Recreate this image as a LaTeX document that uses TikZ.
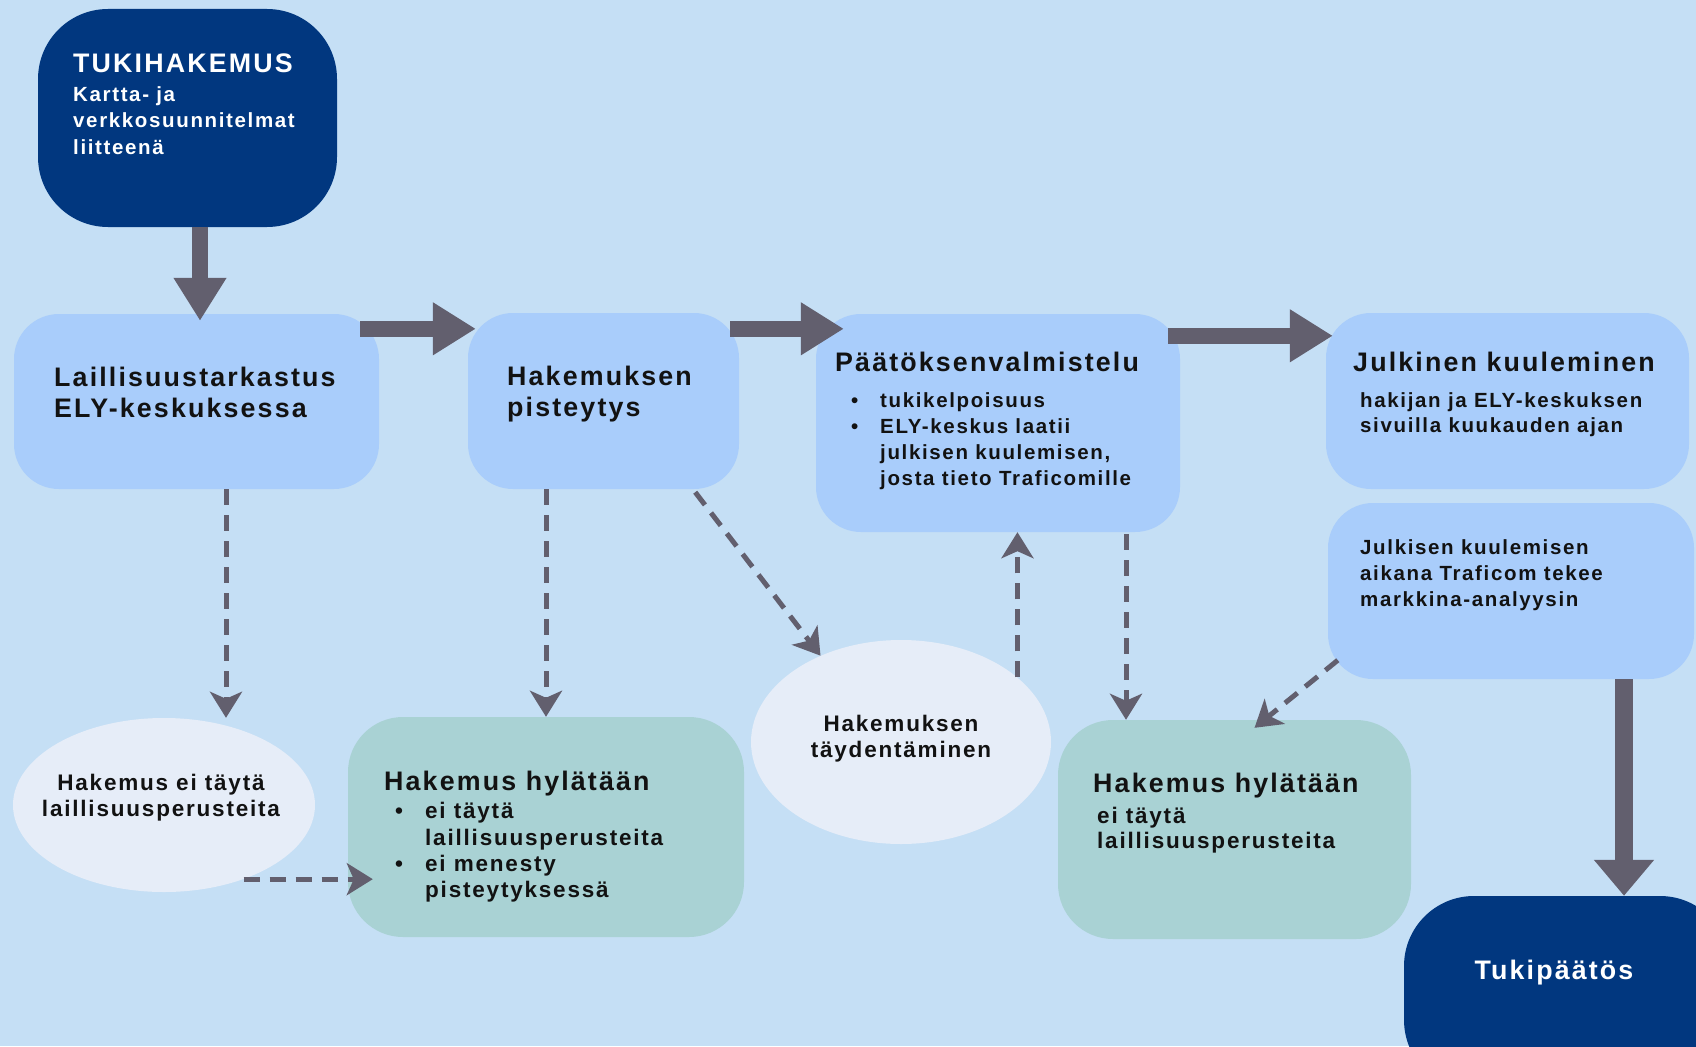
\documentclass[tikz,border=0pt]{standalone}
\usepackage{fontspec}
\setmainfont{Liberation Sans}[LetterSpace=8]
\usetikzlibrary{arrows.meta,calc,shapes.geometric}
\definecolor{bgc}{HTML}{C5DFF5}
\definecolor{lbox}{HTML}{A9CDFB}
\definecolor{dbox}{HTML}{01377F}
\definecolor{ebox}{HTML}{E6EDF8}
\definecolor{gbox}{HTML}{A9D2D4}
\definecolor{arr}{HTML}{625F6E}
\definecolor{txt}{HTML}{121212}
\tikzset{
  lightbox/.style={fill=lbox, rounded corners=45, inner sep=0},
  darkbox/.style={fill=dbox, rounded corners=70, inner sep=0},
  greenbox/.style={fill=gbox, rounded corners=55, inner sep=0},
  ellbox/.style={fill=ebox, ellipse, inner sep=0},
  thk/.style={draw=arr, line width=16.5, -{Triangle[length=43pt,width=50pt]}},
  dsh/.style={draw=arr, line width=5, dash pattern=on 16pt off 10pt, -{Stealth[length=26pt,width=32pt,inset=7pt]}},
  hd/.style={font=\fontsize{26.8}{31}\selectfont\bfseries, text=txt, inner sep=0, anchor=base west},
  sb/.style={font=\fontsize{20.5}{26}\selectfont\bfseries, text=txt, inner sep=0, anchor=base west},
  sbl/.style={sb, font=\fontsize{22.5}{26}\selectfont\bfseries},
  sbc/.style={sbl, anchor=base},
  wt/.style={text=white},
}
\begin{document}
\begin{tikzpicture}[x=1pt,y=-1pt]
\path[use as bounding box] (0,0) rectangle (1696,1046);
\fill[bgc] (0,0) rectangle (1696,1046);
\clip (0,0) rectangle (1696,1046);

% boxes
\node[darkbox, minimum width=299, minimum height=218] (tuki) at (187.5,118) {};
\node[lightbox, minimum width=365, minimum height=175] (lail) at (196.5,401.5) {};
\node[lightbox, minimum width=271, minimum height=176] (pist) at (603.5,401) {};
\node[lightbox, minimum width=364, minimum height=218] (paat) at (998,423) {};
\node[lightbox, minimum width=363, minimum height=176] (julk) at (1507.5,401) {};
\node[lightbox, minimum width=366, minimum height=176] (ana) at (1511,591) {};
\node[ellbox, minimum width=302, minimum height=174] (ell1) at (164,805) {};
\node[greenbox, minimum width=396, minimum height=220] (hyl1) at (546,827) {};
\node[ellbox, minimum width=300, minimum height=204] (ell2) at (901,742) {};
\node[greenbox, minimum width=353, minimum height=219] (hyl2) at (1234.5,829.5) {};
\node[darkbox, minimum width=326, minimum height=194] (paatos) at (1567,993) {};

% helper coordinates
\coordinate (la) at ($(lail.south)+(29.5,0)$);
\coordinate (pa) at ($(paat.south)+(128,2)$);
\coordinate (an) at ($(ana.south)+(113,0)$);

% thick arrows
\draw[thk] ($(tuki.south)+(12.5,0)$) -- ($(lail.north)+(3.5,7)$);
\draw[thk] ($(lail.north east)+(-19,15)$) -- ($(pist.north west)+(8,16)$);
\draw[thk] ($(pist.north east)+(-9,16)$) -- ($(paat.north west)+(28,15)$);
\draw[thk] ($(paat.north east)+(-12,22)$) -- ($(julk.north west)+(7,23)$);
\draw[thk, line width=18, -{Triangle[length=36pt,width=58pt]}] (an) -- (an |- paatos.north);

% dashed arrows
\draw[dsh] (la) -- (la |- ell1.north);
\draw[dsh] ($(pist.south)+(-57.5,0)$) -- (hyl1.north);
\draw[dsh] ($(pist.south east)+(-44,3)$) -- (ell2.133);
\draw[dsh] (ell2.29) -- (ell2.29 |- paat.south);
\draw[dsh] (pa) -- (pa |- hyl2.north);
\draw[dsh] ($(ana.south west)+(10,-19)$) -- ($(hyl2.north)+(20,8)$);
\draw[dsh] (ell1.-43) -- ($(hyl1.west |- ell1.-43)+(25,0)$);

% texts
\node[hd, wt] (t1) at (73,73) {TUKIHAKEMUS};
\node[sb, wt] (t2) at (73,102) {Kartta- ja};
\node[sb, wt] (t3) at (73,128) {verkkosuunnitelmat};
\node[sb, wt] (t4) at (73,154) {liitteenä};

\node[hd] (t5) at (54,386) {Laillisuustarkastus};
\node[hd] (t6) at (54,417) {ELY-keskuksessa};

\node[hd] (t7) at (507,385) {Hakemuksen};
\node[hd] (t8) at (507,416) {pisteytys};

\node[hd] (t9) at (835,371) {Päätöksenvalmistelu};
\node[sb] (b1) at (851,407) {•};
\node[sb] (t10) at (880,407) {tukikelpoisuus};
\node[sb] (b2) at (851,433) {•};
\node[sb] (t11) at (880,433) {ELY-keskus laatii};
\node[sb] (t12) at (880,459) {julkisen kuulemisen,};
\node[sb] (t13) at (880,485) {josta tieto Traficomille};

\node[hd] (t14) at (1353,371) {Julkinen kuuleminen};
\node[sb] (t15) at (1360,407) {hakijan ja ELY-keskuksen};
\node[sb] (t16) at (1360,432) {sivuilla kuukauden ajan};

\node[sb] (t17) at (1360,554) {Julkisen kuulemisen};
\node[sb] (t18) at (1360,580) {aikana Traficom tekee};
\node[sb] (t19) at (1360,606) {markkina-analyysin};

\node[sbc] (t20) at (161,790) {Hakemus ei täytä};
\node[sbc] (t21) at (161,816) {laillisuusperusteita};

\node[hd] (t22) at (384,790) {Hakemus hylätään};
\node[sbl] (b3) at (395,818) {•};
\node[sbl] (t23) at (425,818) {ei täytä};
\node[sbl] (t24) at (425,845) {laillisuusperusteita};
\node[sbl] (b4) at (395,871) {•};
\node[sbl] (t25) at (425,871) {ei menesty};
\node[sbl] (t26) at (425,897) {pisteytyksessä};

\node[sbc] (t27) at (901,731) {Hakemuksen};
\node[sbc] (t28) at (901,757) {täydentäminen};

\node[hd] (t29) at (1093,792) {Hakemus hylätään};
\node[sbl] (t30) at (1097,823) {ei täytä};
\node[sbl] (t31) at (1097,848) {laillisuusperusteita};

\node[hd, wt, anchor=base] (t32) at (1554,979) {Tukipäätös};
\end{tikzpicture}
\end{document}
